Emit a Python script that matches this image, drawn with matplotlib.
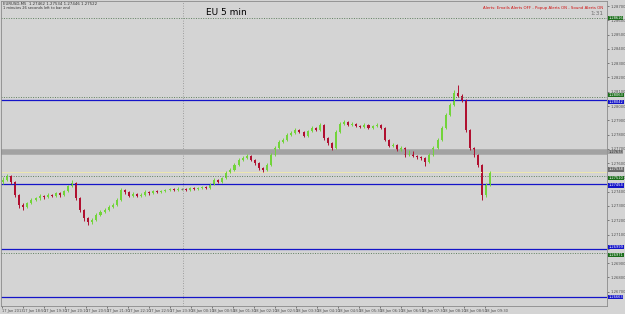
import matplotlib.pyplot as plt
import matplotlib.transforms as mtransforms

# EURUSD M5 candles
closes = [1.27482, 1.27510, 1.27468, 1.27377, 1.27307, 1.27293, 1.27321, 1.27342, 1.27356, 1.27370,
          1.27363, 1.27377, 1.27370, 1.27391, 1.27377, 1.27405, 1.27440, 1.27461, 1.27356, 1.27272,
          1.27216, 1.27188, 1.27202, 1.27237, 1.27258, 1.27272, 1.27293, 1.27307, 1.27342, 1.27412,
          1.27398, 1.27370, 1.27384, 1.27370, 1.27377, 1.27398, 1.27391, 1.27405, 1.27398, 1.27405,
          1.27412, 1.27419, 1.27412, 1.27419, 1.27419, 1.27412, 1.27426, 1.27419, 1.27426, 1.27433,
          1.27426, 1.27454, 1.27482, 1.27468, 1.27496, 1.27538, 1.27552, 1.27587, 1.27622, 1.27636,
          1.27650, 1.27622, 1.27601, 1.27566, 1.27552, 1.27587, 1.27657, 1.27706, 1.27748, 1.27762,
          1.27797, 1.27811, 1.27832, 1.27818, 1.27790, 1.27825, 1.27846, 1.27832, 1.27867, 1.27776,
          1.27741, 1.27706, 1.27818, 1.27874, 1.27888, 1.27867, 1.27874, 1.27860, 1.27853, 1.27867,
          1.27846, 1.27860, 1.27867, 1.27846, 1.27762, 1.27720, 1.27727, 1.27692, 1.27706, 1.27657,
          1.27678, 1.27650, 1.27643, 1.27636, 1.27608, 1.27657, 1.27706, 1.27762, 1.27846, 1.27937,
          1.28007, 1.28091, 1.28070, 1.28042, 1.27832, 1.27706, 1.27657, 1.27587, 1.27377, 1.27447,
          1.27538]
highs = [1.27500, 1.27525, 1.27520, 1.27475, 1.27385, 1.27320, 1.27330, 1.27355, 1.27365, 1.27385,
         1.27380, 1.27390, 1.27385, 1.27400, 1.27398, 1.27415, 1.27450, 1.27480, 1.27470, 1.27365,
         1.27280, 1.27225, 1.27215, 1.27250, 1.27270, 1.27285, 1.27305, 1.27320, 1.27355, 1.27425,
         1.27420, 1.27405, 1.27395, 1.27392, 1.27390, 1.27410, 1.27405, 1.27415, 1.27412, 1.27415,
         1.27422, 1.27428, 1.27425, 1.27430, 1.27428, 1.27425, 1.27435, 1.27432, 1.27435, 1.27442,
         1.27440, 1.27462, 1.27495, 1.27490, 1.27505, 1.27548, 1.27565, 1.27598, 1.27635, 1.27648,
         1.27665, 1.27658, 1.27630, 1.27608, 1.27575, 1.27598, 1.27668, 1.27718, 1.27760, 1.27775,
         1.27810, 1.27825, 1.27845, 1.27840, 1.27825, 1.27835, 1.27858, 1.27855, 1.27880, 1.27875,
         1.27782, 1.27748, 1.27830, 1.27890, 1.27905, 1.27895, 1.27885, 1.27882, 1.27868, 1.27878,
         1.27872, 1.27870, 1.27880, 1.27875, 1.27852, 1.27770, 1.27740, 1.27735, 1.27718, 1.27712,
         1.27690, 1.27685, 1.27660, 1.27652, 1.27645, 1.27668, 1.27718, 1.27775, 1.27858, 1.27950,
         1.28020, 1.28110, 1.28147, 1.28085, 1.28050, 1.27840, 1.27715, 1.27665, 1.27595, 1.27460,
         1.27545]
lows = [1.27455, 1.27475, 1.27455, 1.27365, 1.27285, 1.27270, 1.27285, 1.27315, 1.27335, 1.27345,
        1.27350, 1.27355, 1.27360, 1.27365, 1.27365, 1.27370, 1.27400, 1.27430, 1.27345, 1.27260,
        1.27195, 1.27165, 1.27175, 1.27195, 1.27230, 1.27250, 1.27265, 1.27285, 1.27300, 1.27335,
        1.27385, 1.27360, 1.27362, 1.27360, 1.27362, 1.27370, 1.27380, 1.27385, 1.27390, 1.27390,
        1.27398, 1.27405, 1.27402, 1.27405, 1.27410, 1.27402, 1.27405, 1.27410, 1.27412, 1.27420,
        1.27418, 1.27420, 1.27448, 1.27460, 1.27462, 1.27490, 1.27530, 1.27545, 1.27580, 1.27615,
        1.27628, 1.27612, 1.27590, 1.27555, 1.27535, 1.27545, 1.27580, 1.27650, 1.27700, 1.27740,
        1.27755, 1.27790, 1.27805, 1.27810, 1.27780, 1.27785, 1.27818, 1.27822, 1.27825, 1.27765,
        1.27730, 1.27695, 1.27700, 1.27810, 1.27865, 1.27858, 1.27860, 1.27850, 1.27845, 1.27848,
        1.27838, 1.27840, 1.27855, 1.27838, 1.27752, 1.27710, 1.27712, 1.27682, 1.27685, 1.27645,
        1.27650, 1.27640, 1.27632, 1.27625, 1.27580, 1.27600, 1.27650, 1.27700, 1.27755, 1.27840,
        1.27930, 1.28000, 1.28060, 1.28030, 1.27820, 1.27695, 1.27645, 1.27575, 1.27342, 1.27360,
        1.27440]
first_open = 1.27470
opens = [first_open] + closes[:-1]

# horizontal levels drawn on the chart
blue_levels = [1.28042, 1.27454, 1.26999, 1.26663]
dotted_levels = [1.28616, 1.28063, 1.27510, 1.26971]
band_level = 1.27678
bid_level = 1.27538
day_separator = 44.3

price_ticks = [1.26700, 1.26800, 1.26900, 1.27000, 1.27100, 1.27200, 1.27300, 1.27400,
               1.27500, 1.27600, 1.27700, 1.27800, 1.27900, 1.28000, 1.28100, 1.28200,
               1.28300, 1.28400, 1.28500, 1.28600, 1.28700]
time_labels = ['17 Jan 2013', '17 Jan 18:50', '17 Jan 19:30', '17 Jan 20:10', '17 Jan 20:50',
               '17 Jan 21:30', '17 Jan 22:10', '17 Jan 22:50', '17 Jan 23:30', '18 Jan 00:10',
               '18 Jan 00:50', '18 Jan 01:30', '18 Jan 02:10', '18 Jan 02:50', '18 Jan 03:30',
               '18 Jan 04:10', '18 Jan 04:50', '18 Jan 05:30', '18 Jan 06:10', '18 Jan 06:50',
               '18 Jan 07:30', '18 Jan 08:10', '18 Jan 08:50', '18 Jan 09:30']

bg = '#d4d4d4'
bull = '#72d43a'
bear = '#b01030'
blue = '#1414c8'

fig = plt.figure(figsize=(6.25, 3.14), dpi=100, facecolor=bg)
ax = fig.add_axes([0.0016, 0.0255, 0.970, 0.9713], facecolor=bg)

# levels
ax.axvline(day_separator, color='#8c8c8c', lw=0.6, ls=(0, (1, 2)))
ax.axhline(band_level, color='#a2a2a2', lw=4)
ax.axhline(bid_level, color='#ebe6b0', lw=0.8)
for lv in dotted_levels:
    ax.axhline(lv, color='#5f7f5f', lw=0.7, ls=(0, (1, 1.5)))
for lv in blue_levels:
    ax.axhline(lv, color=blue, lw=0.9)

# candles
for i in range(len(closes)):
    o, c = opens[i], closes[i]
    col = bull if c >= o else bear
    ax.vlines(i, lows[i], highs[i], color=col, lw=0.7)
    if c == o:
        ax.hlines(c, i - 0.25, i + 0.25, color='#707070', lw=0.8)
    else:
        ax.bar(i, c - o, bottom=o, width=0.5, color=col, linewidth=0)

ax.set_xlim(-0.5, 148.8)
ax.set_ylim(1.26600, 1.28735)

# price axis on the right; labels hidden where a price box sits on top of them
box_levels = blue_levels + dotted_levels + [band_level, bid_level]
ax.yaxis.tick_right()
ax.set_yticks(price_ticks)
ax.set_yticklabels(['' if min(abs(p - b) for b in box_levels) < 0.00009 else '%.5f' % p
                    for p in price_ticks])
ax.tick_params(axis='y', labelsize=2.7, colors='#505050', length=1.5, width=0.5, pad=0.8)

ax.set_xticks([-0.25 + 5.17 * k for k in range(len(time_labels))])
ax.set_xticklabels(time_labels)
ax.tick_params(axis='x', labelsize=2.6, colors='#505050', length=1.5, width=0.5, pad=0.8)
for lab in ax.get_xticklabels():
    lab.set_horizontalalignment('left')

for s in ax.spines.values():
    s.set_color('#8a8a8a')
    s.set_linewidth(0.6)

# coloured price boxes on the right axis
trans = mtransforms.blended_transform_factory(ax.transAxes, ax.transData)
box_font = 2.6


def price_box(level, fc, tc, va, dy=0):
    ax.annotate('%.5f' % level, (1.002, level), xycoords=trans, xytext=(0, dy),
                textcoords='offset points', fontsize=box_font, color=tc, va=va, ha='left',
                bbox=dict(boxstyle='square,pad=0.1', fc=fc, ec='none'))


green = '#1c6e1c'
price_box(dotted_levels[0], green, 'white', 'center')
price_box(dotted_levels[1], green, 'white', 'bottom')
price_box(blue_levels[0], blue, 'white', 'top')
price_box(bid_level, '#6a6a6a', 'white', 'center', dy=2.0)
price_box(dotted_levels[2], green, 'white', 'center', dy=-1.5)
price_box(blue_levels[1], blue, 'white', 'center', dy=-1.0)
price_box(band_level, '#a2a2a2', '#303030', 'center')
price_box(blue_levels[2], blue, 'white', 'bottom')
price_box(dotted_levels[3], green, 'white', 'top')
price_box(blue_levels[3], blue, 'white', 'center')

# texts
ax.text(0.004, 0.996, 'EURUSD,M5  1.27462 1.27534 1.27446 1.27522', transform=ax.transAxes,
        fontsize=2.8, color='#303030', va='top', ha='left')
ax.text(0.004, 0.982, '1 minutes 26 seconds left to bar end', transform=ax.transAxes,
        fontsize=2.6, color='#303030', va='top', ha='left')
ax.text(0.372, 0.962, 'EU 5 min', transform=ax.transAxes, fontsize=6.5, color='black',
        va='center', ha='center')
ax.text(0.993, 0.985, 'Alerts: Emails Alerts OFF - Popup Alerts ON - Sound Alerts ON',
        transform=ax.transAxes, fontsize=2.8, color='#d01010', va='top', ha='right')
ax.text(0.993, 0.968, '1:31', transform=ax.transAxes, fontsize=4.2, color='#707070',
        va='top', ha='right')

fig.savefig('out.png', dpi=100, facecolor=bg)
